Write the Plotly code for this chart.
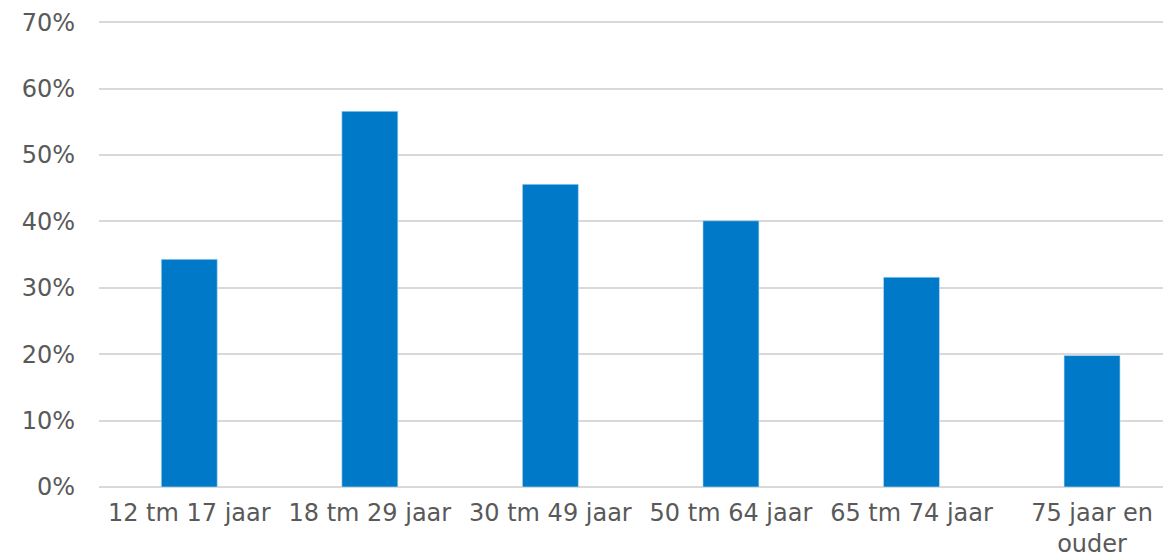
import plotly.graph_objects as go

# Share per age group (percent)
categories = ["12 tm 17 jaar", "18 tm 29 jaar", "30 tm 49 jaar",
              "50 tm 64 jaar", "65 tm 74 jaar", "75 jaar en<br>ouder"]
values = [34.3, 56.6, 45.6, 40.1, 31.6, 19.8]
y_ticks = [0, 10, 20, 30, 40, 50, 60, 70]
y_tick_labels = [f"{v}%" for v in y_ticks]

bar_color = "#0079C8"
text_color = "#595959"
grid_color = "#D9D9D9"
font_family = "DejaVu Sans"
font_size = 24

fig = go.Figure(
    go.Bar(
        x=list(range(len(categories))),
        y=values,
        marker=dict(color=bar_color, line=dict(color="#bfe0f5", width=0.6)),
        hoverinfo="skip",
    )
)

fig.update_layout(
    width=1163,
    height=558,
    margin=dict(l=99, r=0, t=19, b=71),
    paper_bgcolor="white",
    plot_bgcolor="white",
    bargap=0.69,
    showlegend=False,
    font=dict(family=font_family, size=font_size, color=text_color),
)

fig.update_xaxes(
    tickmode="array",
    tickvals=list(range(len(categories))),
    ticktext=categories,
    range=[-0.5, 5.393],
    showgrid=False,
    zeroline=False,
    showline=False,
    ticks="",
    ticklabelstandoff=9,
    automargin=False,
    tickfont=dict(family=font_family, size=font_size, color=text_color),
)

fig.update_yaxes(
    range=[0, 70.5],
    tickmode="array",
    tickvals=y_ticks,
    ticktext=y_tick_labels,
    showgrid=True,
    gridcolor=grid_color,
    gridwidth=1.5,
    zeroline=True,
    zerolinecolor=grid_color,
    zerolinewidth=1.5,
    showline=False,
    ticks="",
    ticklabelstandoff=23,
    automargin=False,
    tickfont=dict(family=font_family, size=font_size, color=text_color),
)

fig.write_html("out.html")
